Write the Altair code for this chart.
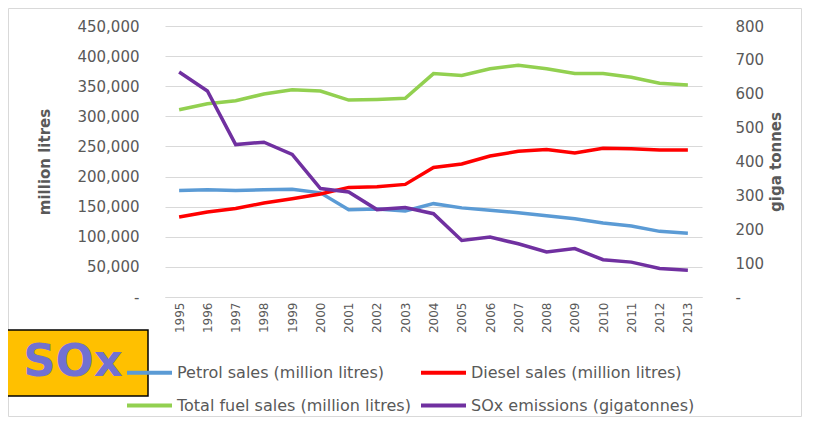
import altair as alt
import pandas as pd

# ---- data ----
years = [str(y) for y in range(1995, 2014)]
petrol = [177000, 178000, 177000, 178000, 179000, 173000, 145000, 146000, 143000, 155000,
          148000, 144000, 140000, 135000, 130000, 123000, 118000, 109000, 106000]
diesel = [133000, 141000, 147000, 156000, 163000, 171000, 182000, 183000, 187000, 215000,
          221000, 234000, 242000, 245000, 239000, 247000, 246000, 244000, 244000]
total = [311000, 321000, 326000, 337000, 344000, 342000, 327000, 328000, 330000, 371000,
         368000, 379000, 385000, 379000, 371000, 371000, 365000, 355000, 352000]
sox = [664, 608, 450, 457, 421, 320, 310, 258, 264, 246,
       167, 177, 157, 133, 143, 110, 103, 84, 79]

series_names = ["Petrol sales (million litres)", "Diesel sales (million litres)",
                "Total fuel sales (million litres)", "SOx emissions (gigatonnes)"]
series_colors = ["#5B9BD5", "#FF0000", "#92D050", "#7030A0"]
left_ticks = list(range(0, 450001, 50000))
right_ticks = list(range(0, 801, 100))

left_rows = []
for name, vals in zip(series_names[:3], [petrol, diesel, total]):
    for yr, v in zip(years, vals):
        left_rows.append({"year": yr, "series": name, "value": v})
left_df = pd.DataFrame(left_rows)
right_df = pd.DataFrame({"year": years, "series": series_names[3], "value": sox})

FONT = "DejaVu Sans"
GRAY = "#595959"
W, H = 537, 271

color = alt.Color(
    "series:N",
    scale=alt.Scale(domain=series_names, range=series_colors),
    sort=series_names,
    legend=alt.Legend(
        title=None, orient="none", legendX=-40, legendY=322, columns=2,
        direction="horizontal",
        symbolType="stroke", symbolSize=2025, symbolStrokeWidth=4,
        labelFont=FONT, labelFontSize=16, labelColor=GRAY, labelOffset=3,
        columnPadding=2, rowPadding=-12, padding=0, labelLimit=400,
    ),
)

x = alt.X(
    "year:O",
    scale=alt.Scale(domain=years),
    axis=alt.Axis(title=None, labelAngle=-90, labelFont=FONT, labelFontSize=12,
                  labelColor=GRAY, ticks=False, domain=True, domainColor="#D9D9D9",
                  labelPadding=5, grid=False),
)

left = alt.Chart(left_df).mark_line(strokeWidth=3.5).encode(
    x=x,
    y=alt.Y("value:Q", scale=alt.Scale(domain=[0, 450000], nice=False),
            axis=alt.Axis(orient="left", title="million litres", values=left_ticks,
                          labelExpr="datum.value == 0 ? '-' : format(datum.value, ',')",
                          labelFont=FONT, labelFontSize=15, labelColor=GRAY, labelPadding=26,
                          ticks=False, domain=False, grid=True, gridColor="#D9D9D9", gridWidth=1,
                          titleFont=FONT, titleFontSize=15, titleFontWeight="bold",
                          titleColor=GRAY, titleAngle=-90, titleX=-121, titleY=H / 2,
                          titleAlign="center", titleBaseline="middle")),
    color=color,
)

right = alt.Chart(right_df).mark_line(strokeWidth=3.5).encode(
    x=x,
    y=alt.Y("value:Q", scale=alt.Scale(domain=[0, 800], nice=False),
            axis=alt.Axis(orient="right", title="giga tonnes", values=right_ticks,
                          labelExpr="datum.value == 0 ? '-' : format(datum.value, ',')",
                          labelFont=FONT, labelFontSize=15, labelColor=GRAY, labelPadding=33,
                          labelAlign="left",
                          ticks=False, domain=False, grid=False,
                          titleFont=FONT, titleFontSize=15, titleFontWeight="bold",
                          titleColor=GRAY, titleAngle=-90, titleX=73, titleY=H / 2,
                          titleAlign="center", titleBaseline="middle")),
    color=color,
)

box_df = pd.DataFrame({"label": ["SOx"]})
frame = alt.Chart(box_df).mark_rect(fill="transparent", stroke="#D9D9D9", strokeWidth=1).encode(
    x=alt.value(-156.5), x2=alt.value(W + 99.5), y=alt.value(-17.5), y2=alt.value(H + 119.5)
)
box = alt.Chart(box_df).mark_rect(fill="#FFC000", stroke="#000000", strokeWidth=1.5).encode(
    x=alt.value(-158), x2=alt.value(-17), y=alt.value(304), y2=alt.value(370)
)
box_text = alt.Chart(box_df).mark_text(
    font=FONT, fontWeight="bold", fontSize=45, color="#7171D1", align="center",
    baseline="alphabetic"
).encode(x=alt.value(-92), y=alt.value(350), text="label:N")

chart = alt.layer(frame, left, right, box, box_text).resolve_scale(y="independent").properties(
    width=W, height=H,
    autosize=alt.AutoSizeParams(type="none"),
    padding={"left": 157, "top": 18, "right": 100, "bottom": 120},
).configure_view(stroke=None)

chart.save("out.html", embed_options={"renderer": "svg", "actions": False})
